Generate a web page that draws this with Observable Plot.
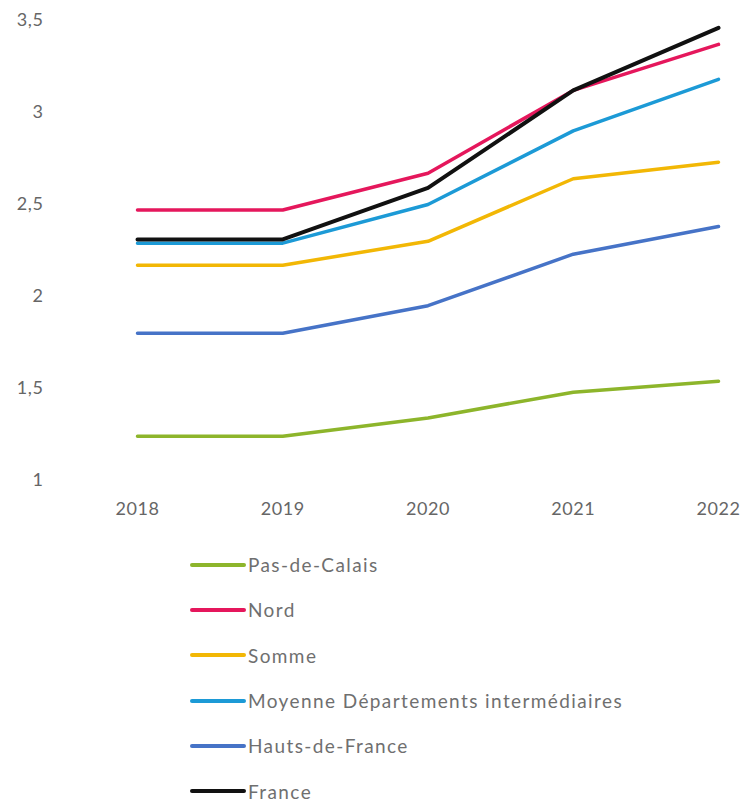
<!DOCTYPE html>
<html>
<head>
<meta charset="utf-8">
<script src="https://cdn.jsdelivr.net/npm/d3@7"></script>
<script src="https://cdn.jsdelivr.net/npm/@observablehq/plot@0.6"></script>
<style>
  body { margin: 0; background: #fff; font-family: Lato, "Open Sans", sans-serif; }
  #legend { padding-left: 190px; padding-top: 2px; }
  .item { height: 45.3px; display: flex; align-items: center; color: #6f6f6f; font-size: 19px; letter-spacing: 1.4px; }
  .sw { width: 56px; height: 4px; border-radius: 2px; margin-right: 2px; }
  svg text { letter-spacing: 0.6px; }
</style>
</head>
<body>
<div id="chart"></div>
<div id="legend"></div>
<script>
const years = [2018, 2019, 2020, 2021, 2022];
const seriesNames = ["Pas-de-Calais", "Nord", "Somme", "Moyenne Départements intermédiaires", "Hauts-de-France", "France"];
const seriesColors = ["#8db52b", "#e5175c", "#f2b705", "#1c9ad6", "#4673c7", "#111111"];
const pasDeCalais = [1.24, 1.24, 1.34, 1.48, 1.54];
const nord = [2.47, 2.47, 2.67, 3.12, 3.37];
const somme = [2.17, 2.17, 2.30, 2.64, 2.73];
const moyenneDI = [2.29, 2.29, 2.50, 2.90, 3.18];
const hautsDeFrance = [1.80, 1.80, 1.95, 2.23, 2.38];
const france = [2.31, 2.31, 2.59, 3.12, 3.46];
const yTicks = [1, 1.5, 2, 2.5, 3, 3.5];

const allValues = [pasDeCalais, nord, somme, moyenneDI, hautsDeFrance, france];
const data = [];
seriesNames.forEach((name, i) => {
  years.forEach((yr, j) => data.push({series: name, year: yr, value: allValues[i][j]}));
});

const chart = Plot.plot({
  width: 742,
  height: 540,
  marginTop: 20,
  marginBottom: 60,
  marginLeft: 50,
  marginRight: 20,
  style: {fontFamily: "Lato, 'Open Sans', sans-serif", fontSize: "18px", color: "#666666", background: "#fff"},
  x: {domain: [2018, 2022], range: [137, 718], ticks: years, tickFormat: d => String(d), tickSize: 0, tickPadding: 22, label: null},
  y: {domain: [1, 3.5], ticks: yTicks, tickFormat: d => String(d).replace(".", ","), tickSize: 0, tickPadding: 7, label: null},
  color: {domain: seriesNames, range: seriesColors},
  marks: [
    Plot.line(data, {x: "year", y: "value", z: "series", stroke: "series", strokeWidth: d => d.series === "France" ? 4 : 3.5, strokeLinejoin: "round", strokeLinecap: "round"})
  ]
});
document.getElementById("chart").appendChild(chart);

const legend = document.getElementById("legend");
seriesNames.forEach((name, i) => {
  const row = document.createElement("div");
  row.className = "item";
  const sw = document.createElement("span");
  sw.className = "sw";
  sw.style.background = seriesColors[i];
  const t = document.createElement("span");
  t.textContent = name;
  row.appendChild(sw);
  row.appendChild(t);
  legend.appendChild(row);
});
</script>
</body>
</html>
